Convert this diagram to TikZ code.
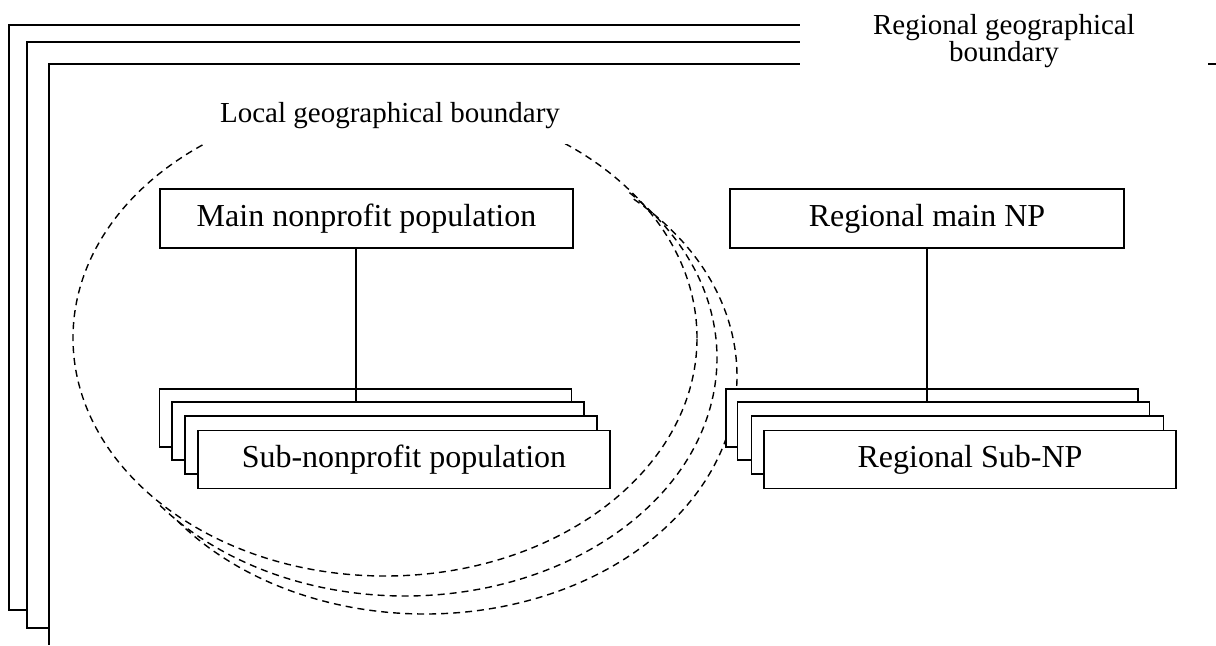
\documentclass[tikz,border=0pt]{standalone}
\usepackage{fontspec}
\setmainfont{Liberation Serif}
\begin{document}
\begin{tikzpicture}[x=0.5pt,y=0.5pt,
  box/.style={draw, line width=0.7pt, fill=white, minimum width=206pt, minimum height=29pt, inner sep=0pt, font=\fontsize{16}{19}\selectfont},
  lbl/.style={fill=white, inner sep=0pt, font=\fontsize{14.5}{13.5}\selectfont, align=center},
  bound/.style={line width=0.8pt},
  zone/.style={dash pattern=on 3.5pt off 2.5pt, line width=0.7pt},
  link/.style={line width=0.7pt}]
\useasboundingbox (0,0) rectangle (1216,-645);

% regional boundary lines
\draw[bound] (1150,-25) -- (9,-25) -- (9,-610) -- (27,-610);
\draw[bound] (1150,-42) -- (27,-42) -- (27,-628) -- (49,-628);
\draw[bound] (1216,-64) -- (49,-64) -- (49,-645);

% local boundary ellipses
\coordinate (c1) at (385,-338);
\coordinate (c2) at (405,-358);
\coordinate (c3) at (425,-376);
\draw[zone] (c1) ellipse [x radius=312, y radius=238];
\draw[zone] (c2) ++(44:312 and 238) arc[start angle=44, end angle=-142, x radius=312, y radius=238];
\draw[zone] (c3) ++(48:312 and 238) arc[start angle=48, end angle=-143, x radius=312, y radius=238];

% labels
\node[lbl, minimum width=188pt, minimum height=28pt] (loc) at (390,-116) {Local geographical boundary};
\node[lbl, minimum width=204pt, minimum height=29pt] (reg) at (1004,-41) {Regional geographical\\boundary};

% main boxes
\node[box, minimum width=206.5pt, minimum height=29.5pt] (main) at (366.5,-218.5) {Main nonprofit population};
\node[box, minimum width=197pt, minimum height=29.5pt] (rmain) at (927,-218.5) {Regional main NP};

% sub boxes (local)
\node[box] (s1) at (365.5,-418) {};
\node[box] (s2) at (378,-431) {};
\node[box] (s3) at (391,-445) {};
\node[box] (s4) at (404,-459.5) {Sub-nonprofit population};

% sub boxes (regional)
\node[box] (r1) at (932,-418) {};
\node[box] (r2) at (943.5,-431) {};
\node[box] (r3) at (957.5,-445) {};
\node[box] (r4) at (970,-459.5) {Regional Sub-NP};

% connectors
\coordinate (mfoot) at ([xshift=-5.25pt]main.south);
\draw[link] (mfoot) -- (mfoot |- s2.north);
\draw[link] (rmain.south) -- (rmain.south |- r2.north);
\end{tikzpicture}
\end{document}
